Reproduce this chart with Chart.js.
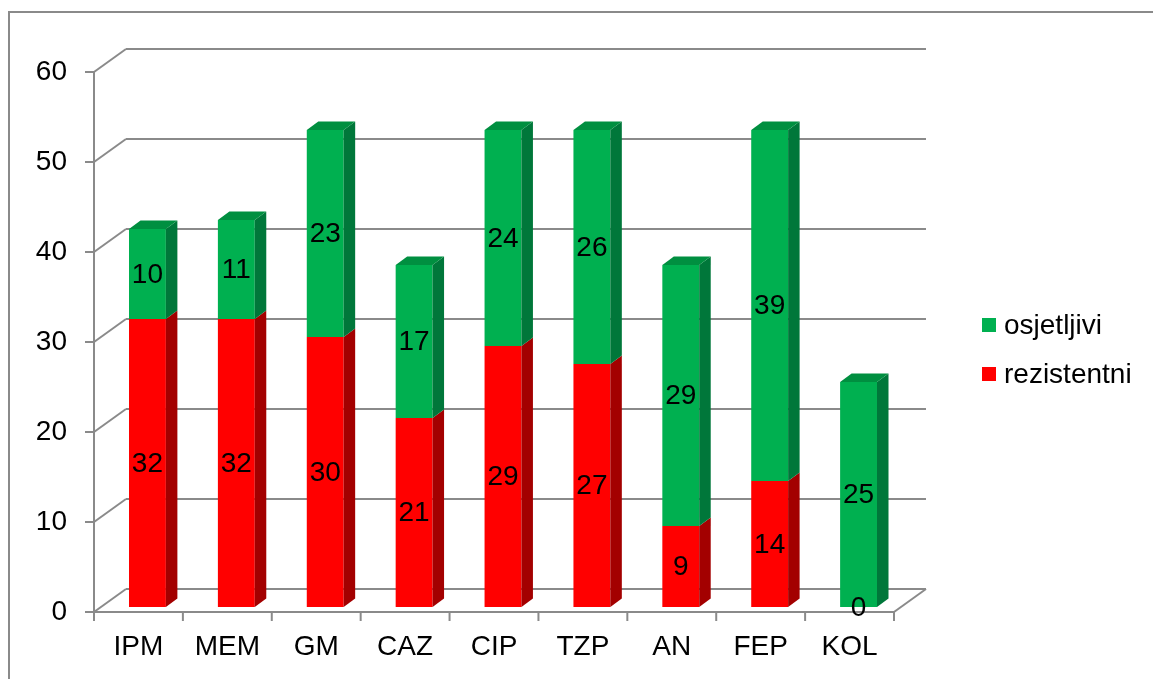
<!DOCTYPE html>
<html>
<head>
<meta charset="utf-8">
<script src="https://cdn.jsdelivr.net/npm/chart.js@4/dist/chart.umd.min.js"></script>
<style>
html, body { margin: 0; padding: 0; background: #fff; }
#wrap { width: 1153px; height: 679px; }
</style>
</head>
<body>
<div id="wrap"><canvas id="chart" width="1153" height="679"></canvas></div>
<script>
const categories = ['IPM', 'MEM', 'GM', 'CAZ', 'CIP', 'TZP', 'AN', 'FEP', 'KOL'];
const rezistentni = [32, 32, 30, 21, 29, 27, 9, 14, 0];
const osjetljivi = [10, 11, 23, 17, 24, 26, 29, 39, 25];
const yMax = 60;
const yStep = 10;

const FONT = '"Liberation Sans", Arial, sans-serif';
const FSIZE = 28;
const GRID = '#8a8a8a';

// 3d offsets
const wallDx = 32, wallDy = -23;
const barShiftX = 9, barShiftY = -5;
const barDx = 11.5, barDy = -8.5;

function shade(face, col) {
    const sides = {'#ff0000': '#a30000', '#00b050': '#00773a'};
    const tops = {'#ff0000': '#c00000', '#00b050': '#008f40'};
    return face === 'side' ? sides[col] : tops[col];
}

function line(ctx, x1, y1, x2, y2) {
    ctx.beginPath();
    ctx.moveTo(x1, y1);
    ctx.lineTo(x2, y2);
    ctx.stroke();
}

const frame3d = {
    id: 'frame3d',
    beforeDatasetsDraw(chart) {
        const ctx = chart.ctx;
        const a = chart.chartArea;
        const y = chart.scales.y;
        ctx.save();
        ctx.strokeStyle = GRID;
        ctx.lineWidth = 2;
        // outer border
        ctx.strokeRect(9, 12, 1200, 700);
        // walls
        for (let v = 0; v <= yMax; v += yStep) {
            const py = y.getPixelForValue(v);
            line(ctx, a.left - 9, py, a.left, py);
            line(ctx, a.left, py, a.left + wallDx, py + wallDy);
            line(ctx, a.left + wallDx, py + wallDy, a.right + wallDx, py + wallDy);
        }
        line(ctx, a.left, a.top, a.left, a.bottom);
        // floor
        line(ctx, a.left, a.bottom, a.right, a.bottom);
        line(ctx, a.right, a.bottom, a.right + wallDx, a.bottom + wallDy);
        const cw = (a.right - a.left) / categories.length;
        for (let i = 0; i <= categories.length; i++) {
            const px = a.left + i * cw;
            line(ctx, px, a.bottom, px, a.bottom + 9);
        }
        ctx.restore();

        ctx.save();
        ctx.translate(barShiftX, barShiftY);
    },
    afterDatasetsDraw(chart) {
        const ctx = chart.ctx;
        const sets = chart.data.datasets;
        const last = sets.length - 1;
        sets.forEach((ds, di) => {
            const meta = chart.getDatasetMeta(di);
            meta.data.forEach((bar, i) => {
                if (!ds.data[i]) return;
                const p = bar.getProps(['x', 'y', 'base', 'width'], true);
                const r = p.x + p.width / 2;
                const l = p.x - p.width / 2;
                const top = Math.min(p.y, p.base);
                const bot = Math.max(p.y, p.base);
                ctx.fillStyle = shade('side', ds.backgroundColor);
                ctx.beginPath();
                ctx.moveTo(r, top);
                ctx.lineTo(r + barDx, top + barDy);
                ctx.lineTo(r + barDx, bot + barDy);
                ctx.lineTo(r, bot);
                ctx.closePath();
                ctx.fill();
                // top face only where nothing is stacked above
                let above = 0;
                for (let k = di + 1; k <= last; k++) above += sets[k].data[i];
                if (above === 0) {
                    ctx.fillStyle = shade('top', ds.backgroundColor);
                    ctx.beginPath();
                    ctx.moveTo(l, top);
                    ctx.lineTo(l + barDx, top + barDy);
                    ctx.lineTo(r + barDx, top + barDy);
                    ctx.lineTo(r, top);
                    ctx.closePath();
                    ctx.fill();
                }
            });
        });
        // value labels
        ctx.fillStyle = '#000';
        ctx.font = FSIZE + 'px ' + FONT;
        ctx.textAlign = 'center';
        ctx.textBaseline = 'middle';
        sets.forEach((ds, di) => {
            chart.getDatasetMeta(di).data.forEach((bar, i) => {
                const p = bar.getProps(['x', 'y', 'base'], true);
                ctx.fillText(String(ds.data[i]), p.x, (p.y + p.base) / 2 + 1);
            });
        });
        ctx.restore();
    },
    afterDraw(chart) {
        // legend, top item is the upper series
        const ctx = chart.ctx;
        const items = chart.data.datasets.slice().reverse();
        ctx.save();
        ctx.font = FSIZE + 'px ' + FONT;
        ctx.textBaseline = 'middle';
        ctx.textAlign = 'left';
        items.forEach((ds, i) => {
            const cy = 325 + i * 49;
            ctx.fillStyle = ds.backgroundColor;
            ctx.fillRect(982, cy - 7, 14, 14);
            ctx.fillStyle = '#000';
            ctx.fillText(ds.label, 1004, cy + 1);
        });
        ctx.restore();
    }
};

new Chart(document.getElementById('chart').getContext('2d'), {
    type: 'bar',
    data: {
        labels: categories,
        datasets: [
            {label: 'rezistentni', data: rezistentni, backgroundColor: '#ff0000', borderWidth: 0},
            {label: 'osjetljivi', data: osjetljivi, backgroundColor: '#00b050', borderWidth: 0}
        ]
    },
    options: {
        responsive: false,
        animation: false,
        devicePixelRatio: 1,
        layout: {padding: {left: 0, top: 72, right: 259, bottom: 0}},
        datasets: {bar: {categoryPercentage: 1, barPercentage: 0.415}},
        plugins: {legend: {display: false}, tooltip: {enabled: false}},
        scales: {
            x: {
                stacked: true,
                grid: {display: false, drawTicks: false},
                border: {display: false},
                ticks: {color: '#000', font: {family: FONT, size: FSIZE}, padding: 18, maxRotation: 0},
                afterFit: (s) => { s.height = 67; }
            },
            y: {
                stacked: true,
                min: 0,
                max: yMax,
                grid: {display: false, drawTicks: false},
                border: {display: false},
                ticks: {stepSize: yStep, color: '#000', font: {family: FONT, size: FSIZE}, padding: 27},
                afterFit: (s) => { s.width = 94; }
            }
        }
    },
    plugins: [frame3d]
});
</script>
</body>
</html>
